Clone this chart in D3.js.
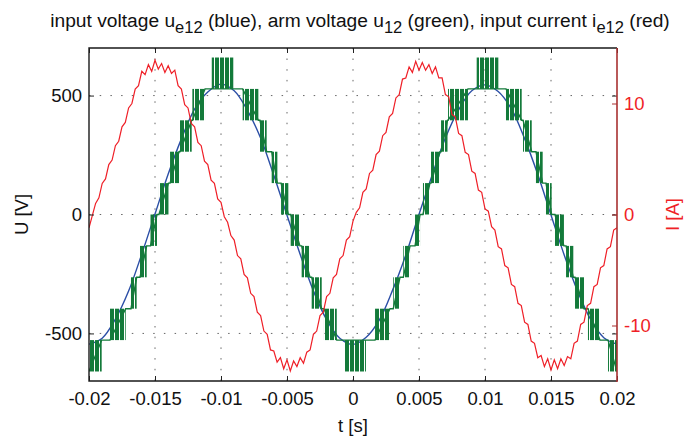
<!DOCTYPE html>
<meta charset="utf-8">
<head>
<script src="https://d3js.org/d3.v7.min.js"></script>
</head>
<style>
    body {
        margin: 0;
        background: #fff;
        font-family: "Liberation Sans", Arial, Helvetica, sans-serif;
    }
</style>
<body>
<script>
'use strict';

// axes
const timeTicks = [-0.02, -0.015, -0.01, -0.005, 0, 0.005, 0.01, 0.015, 0.02];
const voltTicks = [-500, 0, 500];
const currTicks = [-10, 0, 10];

// input voltage u_e12 [V], one sample per ms from -20 ms to 20 ms
const blueVolt = [-545, -520, -440, -322, -166, 2, 170, 318, 443, 515, 548,
    520, 438, 322, 165, -3, -168, -321, -442, -520, -546,
    -516, -443, -318, -170, 1, 166, 322, 440, 520, 545,
    517, 444, 319, 168, -2, -170, -320, -441, -518, -545];

// input current i_e12 [A], one sample per 0.25 ms from -20 ms to 20 ms
const redCurr = [-1.2,
    -0.1, 1.0, 1.5, 2.8, 3.2, 4.5, 4.9, 6.2, 6.6, 7.9, 8.3, 9.6, 10.0, 11.3, 11.6, 12.9, 12.6, 13.5, 12.9, 13.9,
    13.1, 13.6, 12.8, 13.4, 12.7, 13.0, 11.6, 11.3, 9.9, 9.6, 8.2, 7.9, 6.5, 6.2, 4.8, 4.5, 3.1, 2.8, 1.4, 1.1, -0.2,
    -0.7, -1.9, -2.3, -3.7, -4.0, -5.4, -5.7, -7.1, -7.4, -8.8, -9.1, -10.5, -10.8, -12.2, -12.3, -13.3, -12.9, -13.9, -13.1, -14.1,
    -13.2, -13.7, -12.9, -13.4, -12.4, -12.2, -10.8, -10.5, -9.1, -8.8, -7.4, -7.1, -5.7, -5.4, -4.0, -3.7, -2.3, -2.0, -0.6, 0.2,
    0.6, 2.0, 2.3, 3.7, 4.0, 5.4, 5.7, 7.1, 7.4, 8.8, 9.1, 10.5, 10.8, 12.2, 12.3, 13.3, 12.8, 13.8, 13.0, 13.7,
    13.0, 13.5, 12.7, 13.3, 12.3, 12.3, 10.8, 10.6, 9.0, 8.8, 7.3, 7.1, 5.6, 5.4, 3.9, 3.7, 2.2, 2.0, 0.5, 0.3,
    -1.1, -1.4, -2.9, -3.1, -4.6, -4.8, -6.3, -6.5, -8.0, -8.2, -9.7, -9.9, -11.4, -11.6, -12.9, -12.7, -13.7, -13.0, -14.0, -13.1,
    -13.9, -13.0, -13.6, -12.8, -13.0, -11.6, -11.4, -9.9, -9.7, -8.2, -8.0, -6.5, -6.3, -4.8, -4.6, -3.1, -2.9, -1.4, -1.2];

// arm voltage u_12: switching bands [start ms, end ms, low level V, high level V]
const greenBands = [
    [-20.0, -19.04, -660, -528], [-18.41, -17.22, -528, -396], [-16.82, -16.39, -396, -264],
    [-16.14, -15.63, -264, -132], [-15.34, -14.85, -132, 0], [-14.70, -13.98, 0, 132],
    [-13.86, -13.18, 132, 264], [-13.11, -12.22, 264, 396], [-12.17, -11.21, 396, 528],
    [-10.70, -9.07, 528, 660], [-8.36, -7.17, 396, 528], [-7.05, -6.54, 264, 396],
    [-6.16, -5.73, 132, 264], [-5.45, -4.90, 0, 132], [-4.72, -4.02, -132, 0],
    [-3.89, -3.26, -264, -132], [-3.13, -2.37, -396, -264], [-2.20, -1.23, -528, -396],
    [-0.61, 0.98, -660, -528], [1.67, 2.80, -528, -396], [3.05, 3.56, -396, -264],
    [3.81, 4.32, -264, -132], [4.70, 5.08, -132, 0], [5.30, 5.83, 0, 132],
    [5.91, 6.59, 132, 264], [6.67, 7.16, 264, 396], [7.20, 8.71, 396, 528],
    [9.37, 11.01, 528, 660], [11.59, 12.78, 396, 528], [12.88, 13.54, 264, 396],
    [13.86, 14.37, 132, 264], [14.62, 15.05, 0, 132], [15.30, 15.98, -132, 0],
    [16.14, 16.69, -264, -132], [16.82, 17.50, -396, -264], [17.80, 18.71, -528, -396],
    [19.32, 20.0, -660, -528]
];

const blueColor = "#2b4ea6", greenColor = "#137a3a", redColor = "#ef1f27",
    rightAxisColor = "#a83030";

const svg = d3.select("body").append("svg")
    .attr("width", 694)
    .attr("height", 437);

const x = d3.scaleLinear().domain([-0.02, 0.02]).range([89, 617]);
const yV = d3.scaleLinear().domain([-700, 700]).range([381, 48]);
const yI = d3.scaleLinear().domain([-15, 15]).range([381, 48]);

const defs = svg.append("defs");
defs.append("clipPath").attr("id", "plot")
    .append("rect").attr("x", 89).attr("y", 48).attr("width", 528).attr("height", 333);
defs.append("pattern").attr("id", "pwm")
    .attr("width", 5).attr("height", 20).attr("patternUnits", "userSpaceOnUse")
    .append("rect").attr("width", 4).attr("height", 20).attr("fill", greenColor);

// grid
const grid = svg.append("g")
    .attr("stroke", "#666").attr("stroke-width", 1).attr("stroke-dasharray", "1.5,9.2");
grid.selectAll(".gx").data(timeTicks.slice(1, -1)).enter().append("line")
    .attr("x1", d => x(d)).attr("x2", d => x(d)).attr("y1", 381).attr("y2", 48);
grid.selectAll(".gy").data(voltTicks).enter().append("line")
    .attr("y1", d => yV(d)).attr("y2", d => yV(d)).attr("x1", 89).attr("x2", 617);

const plot = svg.append("g").attr("clip-path", "url(#plot)");

// blue
plot.append("path")
    .datum(blueVolt)
    .attr("fill", "none").attr("stroke", blueColor).attr("stroke-width", 1.4)
    .attr("d", d3.line().curve(d3.curveCatmullRom)
        .x((d, i) => x(-0.02 + i * 0.001)).y(d => yV(d)));

// green staircase
const shared = (a, b) => (a[2] === b[2] || a[2] === b[3]) ? a[2] : a[3];
const stairs = [];
greenBands.forEach((b, i) => {
    const prev = greenBands[i - 1], next = greenBands[i + 1];
    const enter = prev ? shared(b, prev) : (shared(b, next) === b[2] ? b[3] : b[2]);
    const exit = next ? shared(b, next) : (shared(b, prev) === b[2] ? b[3] : b[2]);
    stairs.push([b[0], enter], [b[1], exit]);
});
plot.append("path")
    .datum(stairs)
    .attr("fill", "none").attr("stroke", greenColor).attr("stroke-width", 1.4)
    .attr("d", d3.line().x(d => x(d[0] / 1000)).y(d => yV(d[1])));

plot.selectAll(".band").data(greenBands).enter().append("rect")
    .attr("x", d => x(d[0] / 1000))
    .attr("width", d => x(d[1] / 1000) - x(d[0] / 1000))
    .attr("y", d => yV(d[3]))
    .attr("height", d => yV(d[2]) - yV(d[3]))
    .attr("fill", "url(#pwm)");

// red
plot.append("path")
    .datum(redCurr)
    .attr("fill", "none").attr("stroke", redColor).attr("stroke-width", 1.2)
    .attr("d", d3.line().x((d, i) => x(-0.02 + i * 0.00025)).y(d => yI(d)));

// axes
const fontSize = "18.5px";
const axBottom = svg.append("g").attr("transform", "translate(0,381)")
    .call(d3.axisBottom(x).tickValues(timeTicks).tickFormat(d => String(d))
        .tickSizeInner(-5).tickSizeOuter(0).tickPadding(11));
const axTop = svg.append("g").attr("transform", "translate(0,48)")
    .call(d3.axisTop(x).tickValues(timeTicks).tickFormat("")
        .tickSizeInner(-5).tickSizeOuter(0));
const axLeft = svg.append("g").attr("transform", "translate(89,0)")
    .call(d3.axisLeft(yV).tickValues(voltTicks).tickFormat(d => String(d))
        .tickSizeInner(-5).tickSizeOuter(0).tickPadding(7));
const axRightV = svg.append("g").attr("transform", "translate(617,0)")
    .call(d3.axisRight(yV).tickValues(voltTicks).tickFormat("")
        .tickSizeInner(-5).tickSizeOuter(0));
const axRightI = svg.append("g").attr("transform", "translate(617,0)")
    .call(d3.axisRight(yI).tickValues(currTicks).tickFormat(d => String(d))
        .tickSizeInner(-5).tickSizeOuter(0).tickPadding(7));

[axBottom, axTop, axLeft, axRightV, axRightI].forEach(g => {
    g.select(".domain").remove();
    g.selectAll("text").attr("font-size", fontSize)
        .attr("font-family", "'Liberation Sans', Arial, sans-serif").attr("fill", "#111");
    g.selectAll("line").attr("stroke", "#222");
});
axRightI.selectAll("line").attr("stroke", rightAxisColor);
axRightI.selectAll("text").attr("fill", redColor);

// box
svg.append("path")
    .attr("d", "M617,48H89V381H617")
    .attr("fill", "none").attr("stroke", "#1a1a1a").attr("stroke-width", 1.4);
svg.append("line")
    .attr("x1", 617).attr("x2", 617).attr("y1", 48).attr("y2", 382)
    .attr("stroke", rightAxisColor).attr("stroke-width", 1.6);

// labels
svg.append("text")
    .attr("x", 353).attr("y", 432).attr("text-anchor", "middle")
    .attr("font-size", fontSize).attr("fill", "#111").text("t [s]");
svg.append("text")
    .attr("transform", "translate(28,214.5) rotate(-90)").attr("text-anchor", "middle")
    .attr("font-size", fontSize).attr("fill", "#111").text("U [V]");
svg.append("text")
    .attr("transform", "translate(679,214.5) rotate(-90)").attr("text-anchor", "middle")
    .attr("font-size", fontSize).attr("fill", redColor).text("I [A]");

// title with subscripts, sized to the reference width
const title = svg.append("text")
    .attr("x", 360).attr("y", 27).attr("text-anchor", "middle")
    .attr("fill", "#111");
const parts = [
    ["input voltage u", 0], ["e12", 1], [" (blue), arm voltage u", 0], ["12", 1],
    [" (green), input current i", 0], ["e12", 1], [" (red)", 0]
];
let shift = 0;
parts.forEach(p => {
    const dy = p[1] ? 6 : 0;
    title.append("tspan")
        .attr("class", p[1] ? "sub" : "main")
        .attr("dy", dy - shift)
        .text(p[0]);
    shift = dy;
});
function sizeTitle(s) {
    title.selectAll(".main").attr("font-size", s + "px");
    title.selectAll(".sub").attr("font-size", (s * 0.86) + "px");
}
sizeTitle(18);
const w = title.node().getBBox().width;
sizeTitle(Math.min(21, 18 * 620 / w));
</script>
</body>
